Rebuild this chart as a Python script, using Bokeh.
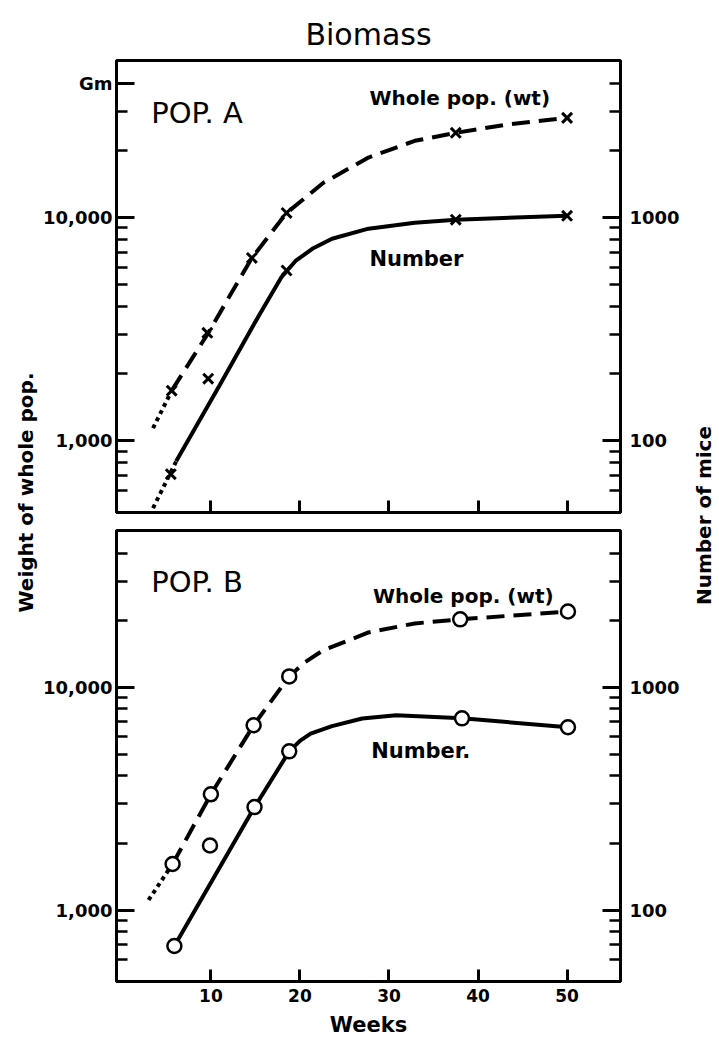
import numpy as np
from bokeh.plotting import figure
from bokeh.models import (Range1d, LogScale, LogAxis, FixedTicker,
                          NumeralTickFormatter, Label)
from bokeh.layouts import row, column
from bokeh.embed import file_html
from bokeh.resources import INLINE

FONT = "DejaVu Sans"

# ---------------- data ----------------
week_ticks = [10, 20, 30, 40, 50]
wt_major = [1000, 10000]
wt_minor = [600, 700, 800, 900, 2000, 3000, 4000, 5000, 6000, 7000, 8000, 9000,
            20000, 30000, 40000]
unit_tick = 40000          # tick that carries the "Gm" unit label (top panel)
mice_major = [100, 1000]
mice_minor = [60, 70, 80, 90, 200, 300, 400, 500, 600, 700, 800, 900,
              2000, 3000, 4000]

# POP. A  - whole population weight (Gm), x markers
a_wt_weeks = [5.6, 9.6, 14.6, 18.5, 37.5, 50.0]
a_wt = [1680, 3050, 6600, 10500, 24000, 28000]
# POP. A  - number of mice, x markers
a_n_weeks = [5.5, 9.7, 18.5, 37.5, 50.0]
a_n = [71, 190, 580, 980, 1020]
# POP. A fitted curves
a_wt_curve_weeks = [5.6, 9.6, 14.6, 18.5, 22.6, 27.7, 32.9, 37.5, 43.2, 50.0]
a_wt_curve = [1680, 3000, 6600, 10500, 14300, 18600, 22100, 24000, 26100, 28000]
a_wt_dot_weeks = [3.5, 5.6]
a_wt_dot = [1140, 1680]
a_n_curve_weeks = [6.1, 11.0, 15.4, 17.9, 19.5, 21.5, 23.6, 27.7, 32.9, 37.5, 50.0]
a_n_curve = [81, 178, 365, 540, 640, 730, 805, 893, 950, 980, 1020]
a_n_dot_weeks = [3.5, 6.1]
a_n_dot = [50, 81]

# POP. B  - whole population weight (Gm), circles
b_wt_weeks = [5.7, 10.0, 14.8, 18.8, 38.0, 50.1]
b_wt = [1610, 3310, 6760, 11200, 20200, 21900]
# POP. B  - number of mice, circles
b_n_weeks = [5.9, 9.9, 14.9, 18.8, 38.2, 50.1]
b_n = [69, 195, 290, 516, 726, 662]
# POP. B fitted curves
b_wt_curve_weeks = [5.7, 10.0, 14.8, 18.8, 20.6, 22.6, 27.7, 32.9, 38.0, 50.1]
b_wt_curve = [1610, 3310, 6760, 11200, 13000, 14650, 17640, 19360, 20200, 21900]
b_wt_dot_weeks = [3.0, 5.7]
b_wt_dot = [1110, 1610]
b_n_curve_weeks = [5.9, 14.9, 18.8, 20.0, 21.2, 23.6, 27.0, 30.8, 38.2, 50.1]
b_n_curve = [69, 290, 516, 575, 620, 670, 725, 749, 726, 662]

X_RANGE = (-0.6, 56.0)
WT_RANGE = (478, 50600)
N_RANGE = (47.8, 5060)

LEFT_W, MAIN_W, RIGHT_W = 40, 642, 37
LEFT_BORDER = 115 - LEFT_W


def make_panel(height, b_top, b_bottom, bottom_labels, unit_label):
    p = figure(width=MAIN_W, height=height,
               x_range=Range1d(*X_RANGE), y_range=Range1d(*WT_RANGE),
               y_axis_type="log", output_backend="svg", toolbar_location=None,
               min_border_left=LEFT_BORDER, min_border_right=60,
               min_border_top=b_top, min_border_bottom=b_bottom)
    p.extra_y_ranges = {"mice": Range1d(*N_RANGE)}
    p.extra_y_scales = {"mice": LogScale()}
    p.xgrid.visible = False
    p.ygrid.visible = False
    p.outline_line_color = "black"
    p.outline_line_width = 3
    p.outline_line_alpha = 1.0

    # left (weight) axis
    ya = p.yaxis[0]
    if unit_label:
        majors = wt_major + [unit_tick]
        minors = [m for m in wt_minor if m != unit_tick]
        ya.ticker = FixedTicker(ticks=majors, minor_ticks=minors)
        ya.major_label_overrides = {unit_tick: "Gm"}
    else:
        ya.ticker = FixedTicker(ticks=wt_major, minor_ticks=wt_minor)
    ya.formatter = NumeralTickFormatter(format="0,0")
    # right (number of mice) axis
    ra = LogAxis(y_range_name="mice",
                 ticker=FixedTicker(ticks=mice_major, minor_ticks=mice_minor),
                 formatter=NumeralTickFormatter(format="0"))
    p.add_layout(ra, "right")
    for ax in (ya, ra):
        ax.axis_line_width = 3
        ax.major_tick_in = 18
        ax.major_tick_out = 0
        ax.minor_tick_in = 11
        ax.minor_tick_out = 0
        ax.major_tick_line_width = 3
        ax.minor_tick_line_width = 2.5
        ax.major_label_text_font = FONT
        ax.major_label_text_font_style = "bold"
        ax.major_label_text_font_size = "18px"
        ax.major_label_text_color = "black"
    ya.major_label_standoff = 4
    ra.major_label_standoff = 9

    xa = p.xaxis[0]
    xa.ticker = FixedTicker(ticks=week_ticks)
    xa.axis_line_width = 3
    xa.major_tick_in = 12
    xa.major_tick_out = 0
    xa.major_tick_line_width = 3
    xa.minor_tick_line_color = None
    if bottom_labels:
        xa.major_label_text_font = FONT
        xa.major_label_text_font_style = "bold"
        xa.major_label_text_font_size = "17px"
        xa.major_label_text_color = "black"
        xa.major_label_standoff = 7
        xa.axis_label = "Weeks"
        xa.axis_label_text_font = FONT
        xa.axis_label_text_font_style = "bold"
        xa.axis_label_text_font_size = "21px"
        xa.axis_label_text_color = "black"
        xa.axis_label_standoff = 8
    else:
        xa.major_label_text_font_size = "0px"
        xa.major_label_text_color = None
        xa.major_label_standoff = 0
    return p


SOLID = dict(line_width=4, color="black")
DASHED = dict(line_width=4, color="black", line_dash="18 9")
DOTTED = dict(line_width=4, color="black", line_dash="4 4")


def text_label(p, x, y, text, size, bold=True):
    p.add_layout(Label(x=x, y=y, text=text, text_align="left",
                       text_baseline="middle", text_font=FONT,
                       text_font_size=size, text_color="black",
                       text_font_style="bold" if bold else "normal"))


# ---------------- top panel: POP. A ----------------
top = make_panel(521, 60, 9, False, True)
top.title.text = "Biomass"
top.title.align = "center"
top.title.text_font = FONT
top.title.text_font_size = "30px"
top.title.text_font_style = "normal"
top.title.text_color = "black"
top.title.standoff = 17

top.line(a_wt_dot_weeks, a_wt_dot, **DOTTED)
top.line(a_wt_curve_weeks, a_wt_curve, **DASHED)
top.line(a_n_dot_weeks, a_n_dot, y_range_name="mice", **DOTTED)
top.line(a_n_curve_weeks, a_n_curve, y_range_name="mice", **SOLID)
top.scatter(a_wt_weeks, a_wt, marker="x", size=14, line_width=3, color="black")
top.scatter(a_n_weeks, a_n, marker="x", size=14, line_width=3, color="black",
            y_range_name="mice")

text_label(top, 3.3, 29500, "POP. A", "29px", bold=False)
text_label(top, 27.8, 34500, "Whole pop. (wt)", "20px")
text_label(top, 27.8, 6550, "Number", "21px")

# ---------------- bottom panel: POP. B ----------------
bot = make_panel(522, 9, 62, True, False)
bot.line(b_wt_dot_weeks, b_wt_dot, **DOTTED)
bot.line(b_wt_curve_weeks, b_wt_curve, **DASHED)
bot.line(b_n_curve_weeks, b_n_curve, y_range_name="mice", **SOLID)
bot.scatter(b_wt_weeks, b_wt, marker="circle", size=14, line_width=2.5,
            line_color="black", fill_color="white")
bot.scatter(b_n_weeks, b_n, marker="circle", size=14, line_width=2.5,
            line_color="black", fill_color="white", y_range_name="mice")

text_label(bot, 3.3, 29600, "POP. B", "29px", bold=False)
text_label(bot, 28.2, 25600, "Whole pop. (wt)", "20px")
text_label(bot, 28.0, 5160, "Number.", "21px")


# ---------------- side figures holding the shared axis titles ----------------
def side_fig(width, x0, text, xc, yc):
    f = figure(width=width, height=1043, x_range=Range1d(x0, x0 + width),
               y_range=Range1d(1043, 0), x_axis_type=None, y_axis_type=None,
               output_backend="svg", toolbar_location=None, min_border=0)
    f.outline_line_color = None
    f.add_layout(Label(x=xc, y=yc, text=text, angle=np.pi / 2,
                       text_align="center", text_baseline="middle",
                       text_font=FONT, text_font_size="20px",
                       text_font_style="bold", text_color="black"))
    return f


left = side_fig(LEFT_W, 0, "Weight of whole pop.", 25, 492)
right = side_fig(RIGHT_W, LEFT_W + MAIN_W, "Number of mice", 703, 515)

layout = row(left, column(top, bot), right)

open("out.html", "w").write(file_html(layout, INLINE))
